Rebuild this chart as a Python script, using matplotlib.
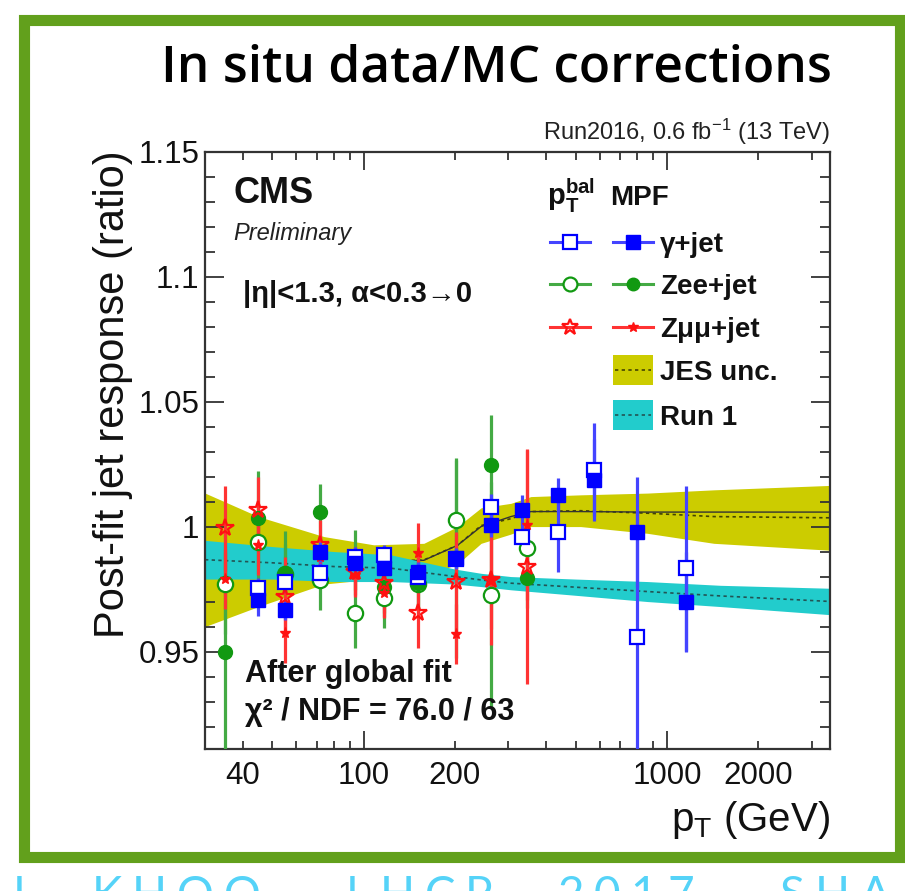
import numpy as np
import matplotlib
matplotlib.use("Agg")
import matplotlib.pyplot as plt
from matplotlib.ticker import FixedLocator, FuncFormatter
from matplotlib.patches import Rectangle
from matplotlib.lines import Line2D

plt.rcParams['font.family'] = ['Liberation Sans', 'DejaVu Sans']
plt.rcParams['mathtext.fontset'] = 'custom'
plt.rcParams['mathtext.rm'] = 'Liberation Sans'
plt.rcParams['mathtext.it'] = 'Liberation Sans:italic'
plt.rcParams['mathtext.bf'] = 'Liberation Sans:bold'

W, H = 905, 891

# ---- gamma+jet (pT balance = open, MPF = filled)
gj_pt = [45, 55, 72, 94, 117, 151, 201, 263, 334, 438, 576, 796, 1156]
gj_bal = [0.9753, 0.978, 0.9813, 0.988, 0.9887, 0.980, 0.987, 1.008, 0.996, 0.998, 1.0227, 0.956, 0.9833]
gj_bal_err = [0.004, 0.004, 0.004, 0.004, 0.004, 0.004, 0.004, 0.005, 0.006, 0.016, 0.0186, 0.05, 0.033]
gj_mpf = [0.9707, 0.9667, 0.990, 0.9853, 0.9833, 0.982, 0.9873, 1.0007, 1.0067, 1.0127, 1.0187, 0.998, 0.970]
gj_mpf_err = [0.0065, 0.004, 0.004, 0.004, 0.004, 0.004, 0.004, 0.005, 0.006, 0.0066, 0.0165, 0.022, 0.02]

# ---- Z(ee)+jet
zee_pt = [35, 45, 55, 72, 94, 117, 151, 201, 263, 347]
zee_bal = [0.977, 0.994, 0.981, 0.9787, 0.9653, 0.9713, 0.977, 1.0027, 0.9727, 0.9913]
zee_bal_err = [0.02, 0.015, 0.012, 0.012, 0.014, 0.012, 0.012, 0.024, 0.045, 0.012]
zee_mpf = [0.950, 1.0033, 0.9813, 1.006, 0.9867, 0.976, 0.9773, 0.9873, 1.0247, 0.9793]
zee_mpf_err = [0.04, 0.019, 0.017, 0.011, 0.012, 0.012, 0.01, 0.04, 0.02, 0.012]

# ---- Z(mumu)+jet
zmm_pt = [35, 45, 55, 72, 94, 117, 151, 201, 263, 347]
zmm_bal = [0.9993, 1.0067, 0.972, 0.9927, 0.982, 0.9773, 0.9653, 0.978, 0.9787, 0.984]
zmm_bal_err = [0.017, 0.013, 0.016, 0.01, 0.01, 0.012, 0.014, 0.02, 0.026, 0.047]
zmm_mpf = [0.979, 0.9927, 0.9573, 0.988, 0.9807, 0.9733, 0.9893, 0.957, 0.979, 1.0007]
zmm_mpf_err = [0.012, 0.012, 0.012, 0.008, 0.008, 0.01, 0.012, 0.012, 0.02, 0.03]

# ---- JES uncertainty band and global-fit curve
jes_pt = [30, 45, 74, 108, 158, 204, 244, 306, 356, 520, 863, 1428, 3500]
jes_hi = [1.0134, 1.004, 0.996, 0.9927, 0.9933, 1.0, 1.0075, 1.0093, 1.012, 1.0127, 1.0134, 1.0147, 1.0165]
jes_lo = [0.960, 0.968, 0.977, 0.979, 0.980, 0.985, 0.9933, 0.997, 1.0, 1.0, 0.9973, 0.9933, 0.9905]
jes_fit = [0.987, 0.986, 0.9865, 0.986, 0.9865, 0.9925, 1.0, 1.004, 1.006, 1.006, 1.0058, 1.0058, 1.0058]

# ---- Run 1 reference band
r1_pt = [30, 50, 80, 123, 200, 244, 306, 500, 863, 1500, 3500]
r1_hi = [0.9945, 0.992, 0.990, 0.9887, 0.983, 0.9813, 0.980, 0.979, 0.978, 0.9765, 0.9753]
r1_lo = [0.979, 0.979, 0.978, 0.978, 0.977, 0.976, 0.9747, 0.9725, 0.970, 0.968, 0.9647]

x_major = [100, 1000]
x_minor = [40, 50, 60, 70, 80, 90, 200, 300, 400, 500, 600, 700, 800, 900, 2000, 3000]
x_minor_labels = {40: "40", 200: "200", 2000: "2000"}
y_major = [0.95, 1.0, 1.05, 1.1, 1.15]
y_major_labels = ["0.95", "1", "1.05", "1.1", "1.15"]

fig = plt.figure(figsize=(W / 100, H / 100), dpi=100)


def fx(px):
    return px / W


def fy(py):
    return 1 - py / H


ax = fig.add_axes([fx(205), fy(749), (830 - 205) / W, (749 - 151.7) / H])
ax.set_xscale('log')
ax.set_xlim(30, 3450)
ax.set_ylim(0.911, 1.15)

# bands
ax.fill_between(jes_pt, jes_lo, jes_hi, color='#cccc00', lw=0, zorder=1)
ax.plot(jes_pt, (np.array(jes_hi) + np.array(jes_lo)) / 2, color='#444400', lw=1.2,
        ls=(0, (2, 2)), zorder=1.5)
ax.plot(jes_pt, jes_fit, color='#333333', lw=1.0, zorder=1.5)
ax.fill_between(r1_pt, r1_lo, r1_hi, color='#22cccc', lw=0, zorder=2)
ax.plot(r1_pt, (np.array(r1_hi) + np.array(r1_lo)) / 2, color='#225555', lw=1.2,
        ls=(0, (2, 2)), zorder=2.5)

blue, green, red = '#0000ff', '#119911', '#ff1111'
blue_bar, green_bar, red_bar = '#4444ff', '#44aa44', '#ff3333'

ekw = dict(capsize=0, elinewidth=2.3, ls='none', zorder=4)
ax.errorbar(zee_pt, zee_bal, yerr=zee_bal_err, fmt='o', ms=11, mfc='white', mec=green,
            mew=1.6, ecolor=green_bar, **ekw)
ax.errorbar(zee_pt, zee_mpf, yerr=zee_mpf_err, fmt='o', ms=10, mfc=green, mec=green,
            ecolor=green_bar, **ekw)
ax.errorbar(zmm_pt, zmm_bal, yerr=zmm_bal_err, fmt='*', ms=13, mfc='none', mec=red,
            mew=1.6, ecolor=red_bar, **ekw)
ax.errorbar(zmm_pt, zmm_mpf, yerr=zmm_mpf_err, fmt='*', ms=8, mfc=red, mec=red,
            ecolor=red_bar, **ekw)
ax.errorbar(gj_pt, gj_bal, yerr=gj_bal_err, fmt='s', ms=10, mfc='white', mec=blue,
            mew=1.6, ecolor=blue_bar, **ekw)
ax.errorbar(gj_pt, gj_mpf, yerr=gj_mpf_err, fmt='s', ms=10, mfc=blue, mec=blue,
            ecolor=blue_bar, **ekw)

# axes styling
for s in ax.spines.values():
    s.set_color('#333333')
    s.set_linewidth(1.6)
ax.xaxis.set_major_locator(FixedLocator(x_major))
ax.xaxis.set_minor_locator(FixedLocator(x_minor))
ax.xaxis.set_major_formatter(FuncFormatter(lambda v, p: f"{int(round(v))}"))
ax.xaxis.set_minor_formatter(FuncFormatter(lambda v, p: x_minor_labels.get(int(round(v)), "")))
ax.yaxis.set_major_locator(FixedLocator(y_major))
ax.set_yticklabels(y_major_labels)
ax.yaxis.set_minor_locator(FixedLocator(np.round(np.arange(0.92, 1.15, 0.01), 3)))
ax.tick_params(which='both', direction='in', top=True, right=True, color='#333333',
               width=1.3, labelsize=22.5, labelcolor='#111111')
ax.tick_params(axis='x', which='major', length=13, pad=9)
ax.tick_params(axis='x', which='minor', length=6, pad=9)
ax.tick_params(axis='y', which='major', length=14, pad=4)
ax.tick_params(axis='y', which='minor', length=7)

# axis titles
fig.text(fx(830), fy(820), r"$\mathregular{p_{T}}$ (GeV)", ha='right', va='center',
         fontsize=29, color='#111111')
fig.text(fx(113), fy(150), "Post-fit jet response (ratio)", rotation=90, ha='center',
         va='top', fontsize=30, color='#111111')

# in-plot annotations
fig.text(fx(830), fy(140), r"Run2016, 0.6 fb$^{-1}$ (13 TeV)", ha='right', va='baseline',
         fontsize=17, family=['Liberation Sans Narrow', 'Liberation Sans'], color='#222222')
fig.text(fx(233), fy(203), "CMS", ha='left', va='baseline', fontsize=26, weight='bold',
         color='#111111')
fig.text(fx(233), fy(240), "Preliminary", ha='left', va='baseline', fontsize=17,
         style='italic', color='#222222')
fig.text(fx(243), fy(302), "|η|<1.3, α<0.3→0", ha='left', va='baseline', fontsize=21,
         weight='bold', color='#111111')
fig.text(fx(245), fy(682), "After global fit", ha='left', va='baseline', fontsize=22,
         weight='bold', color='#111111')
fig.text(fx(245), fy(720), "χ² / NDF = 76.0 / 63", ha='left', va='baseline', fontsize=22,
         weight='bold', color='#111111')

# legend
fig.text(fx(547), fy(205), r"$\mathbf{p}_{\mathbf{T}}^{\mathbf{bal}}$", ha='left',
         va='baseline', fontsize=21, color='#111111')
fig.text(fx(610), fy(205), "MPF", ha='left', va='baseline', fontsize=20, weight='bold',
         color='#111111')
rows = [
    (242, "γ+jet", dict(marker='s', ms=10, mfc='white', mec=blue, mew=1.6), dict(marker='s', ms=10, mfc=blue, mec=blue), blue_bar),
    (284, "Zee+jet", dict(marker='o', ms=10, mfc='white', mec=green, mew=1.6), dict(marker='o', ms=9, mfc=green, mec=green), green_bar),
    (327, "Zμμ+jet", dict(marker='*', ms=12, mfc='none', mec=red, mew=1.6), dict(marker='*', ms=7, mfc=red, mec=red), red_bar),
]
for y, lab, mk_open, mk_fill, lc in rows:
    for xc, mk in ((570, mk_open), (633, mk_fill)):
        fig.add_artist(Line2D([fx(xc - 20), fx(xc + 20)], [fy(y), fy(y)], color=lc, lw=2.2,
                              transform=fig.transFigure))
        fig.add_artist(Line2D([fx(xc)], [fy(y)], ls='none', transform=fig.transFigure, **mk))
    fig.text(fx(660), fy(y), lab, ha='left', va='center_baseline', fontsize=20,
             weight='bold', color='#111111')

for ytop, lab, col, lcol in ((355, "JES unc.", '#cccc00', '#444400'), (400, "Run 1", '#22cccc', '#225555')):
    fig.add_artist(Rectangle((fx(613), fy(ytop + 30)), 40 / W, 30 / H, color=col, lw=0,
                             transform=fig.transFigure))
    fig.add_artist(Line2D([fx(615), fx(651)], [fy(ytop + 15)] * 2, color=lcol, lw=1.2,
                          ls=(0, (2, 2)), transform=fig.transFigure))
    fig.text(fx(660), fy(ytop + 15), lab, ha='left', va='center_baseline', fontsize=20,
             weight='bold', color='#111111')

# slide decoration
fig.text(fx(832), fy(82), "In situ data/MC corrections", ha='right', va='baseline',
         fontsize=37, family=['Open Sans', 'Lato', 'DejaVu Sans'], weight=600, color='black')
fig.add_artist(Rectangle((fx(23.5), fy(857)), (900 - 23.5) / W, (857 - 19.5) / H, fill=False,
                         ec='#62a01c', lw=8, transform=fig.transFigure))

# letter-spaced footer credit, running off the bottom edge
credit = "L. KHOO, LHCP 2017, SHANGHAI"
renderer = fig.canvas.get_renderer()
xpos = 13.0
prev = ''
for ch in credit:
    t = fig.text(fx(xpos), fy(909), ch, ha='left', va='baseline', fontsize=33,
                 family=['Lato', 'DejaVu Sans'], weight='normal', color='#55d3f8')
    if ch == ' ':
        xpos += 24 if prev == '.' else 55
    else:
        xpos += t.get_window_extent(renderer).width + 10
    prev = ch

fig.savefig("out.png", dpi=100)
